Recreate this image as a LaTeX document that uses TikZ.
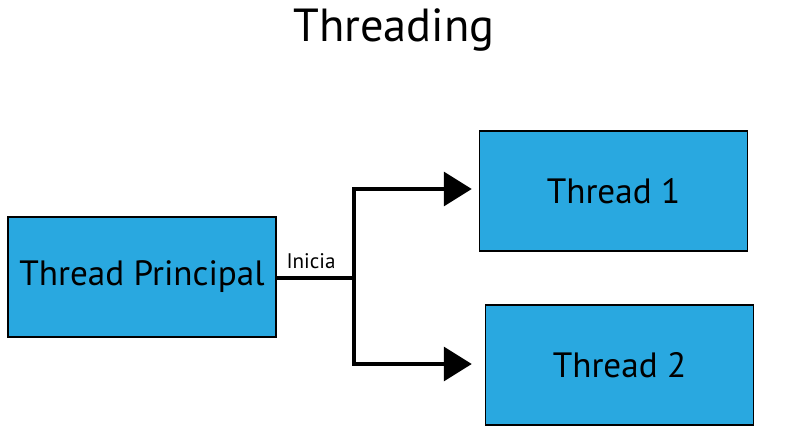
\documentclass[tikz,border=0pt]{standalone}
\usepackage{fontspec}
\setmainfont{PT Sans}
\usepackage{xcolor}
\usetikzlibrary{arrows.meta,positioning,calc}
\definecolor{threadblue}{RGB}{41,168,224}

\begin{document}
\begin{tikzpicture}[
            x=0.025cm, y=-0.025cm,
            box/.style={draw, line width=1pt, fill=threadblue, minimum width=6.7cm, minimum height=3cm, font=\fontsize{25}{30}\selectfont},
            link/.style={line width=2.5pt, -{Triangle[length=0.7cm, width=0.85cm]}},
        ]
            \useasboundingbox (0,0) rectangle (790,427);
            \node[font=\fontsize{33}{40}\selectfont, anchor=base] (title) at (394,42) {Threading};

            \node[box] (main) at (142,277) {Thread Principal};
            \node[box] (t1) at (613.5,191) {Thread 1};
            \node[box] (t2) at (619.5,365) {Thread 2};

            \coordinate (split) at (354,278);
            \draw[line width=2.5pt] (main.east |- split) -- (split);
            \node[font=\fontsize{15}{18}\selectfont, anchor=base] (start) at (311,268) {Inicia};
            \draw[link] (split) |- ($(t1.west)+(-7,-2)$);
            \draw[link] (split) |- ($(t2.west)+(-13,-1)$);
        \end{tikzpicture}
\end{document}
